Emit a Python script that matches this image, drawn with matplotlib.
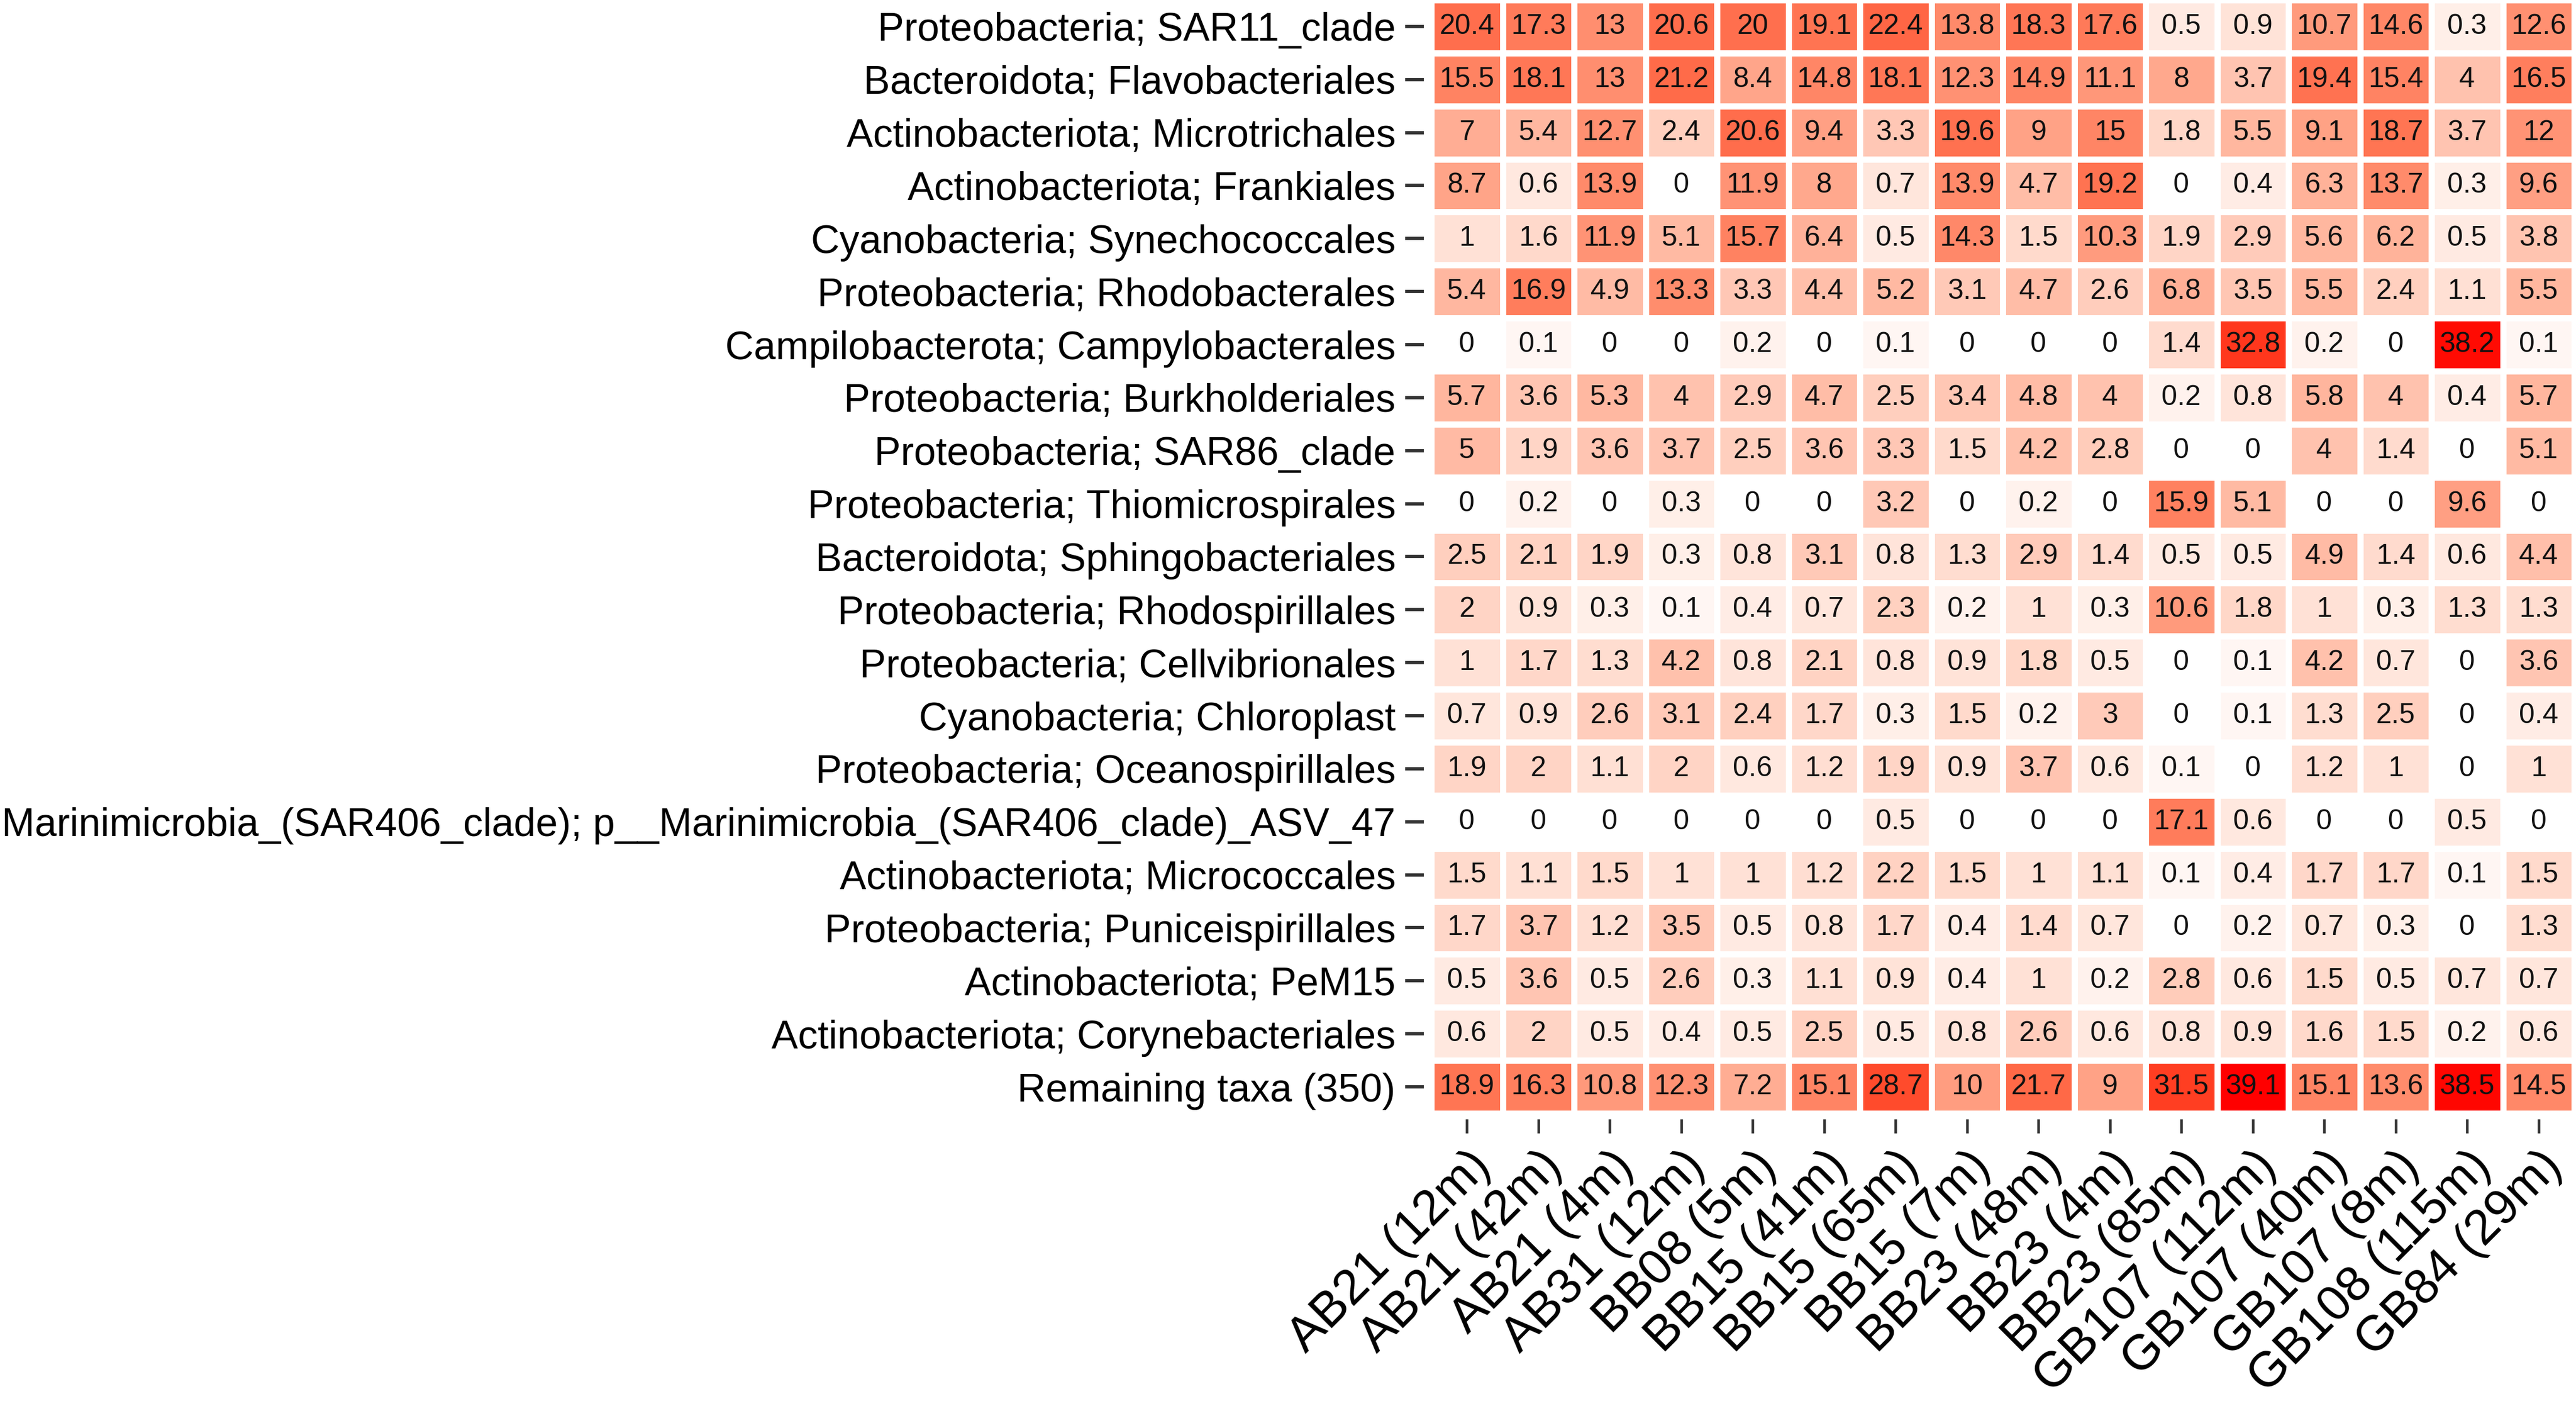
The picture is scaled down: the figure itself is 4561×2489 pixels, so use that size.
import numpy as np
import matplotlib
matplotlib.use("Agg")
import matplotlib.pyplot as plt
from matplotlib.colors import ListedColormap

plt.rcParams['font.family'] = ['Liberation Sans', 'DejaVu Sans']

samples = ["AB21 (12m)", "AB21 (42m)", "AB21 (4m)", "AB31 (12m)", "BB08 (5m)",
           "BB15 (41m)", "BB15 (65m)", "BB15 (7m)", "BB23 (48m)", "BB23 (4m)",
           "BB23 (85m)", "GB107 (112m)", "GB107 (40m)", "GB107 (8m)",
           "GB108 (115m)", "GB84 (29m)"]

taxa = ["Proteobacteria; SAR11_clade",
        "Bacteroidota; Flavobacteriales",
        "Actinobacteriota; Microtrichales",
        "Actinobacteriota; Frankiales",
        "Cyanobacteria; Synechococcales",
        "Proteobacteria; Rhodobacterales",
        "Campilobacterota; Campylobacterales",
        "Proteobacteria; Burkholderiales",
        "Proteobacteria; SAR86_clade",
        "Proteobacteria; Thiomicrospirales",
        "Bacteroidota; Sphingobacteriales",
        "Proteobacteria; Rhodospirillales",
        "Proteobacteria; Cellvibrionales",
        "Cyanobacteria; Chloroplast",
        "Proteobacteria; Oceanospirillales",
        "Marinimicrobia_(SAR406_clade); p__Marinimicrobia_(SAR406_clade)_ASV_47",
        "Actinobacteriota; Micrococcales",
        "Proteobacteria; Puniceispirillales",
        "Actinobacteriota; PeM15",
        "Actinobacteriota; Corynebacteriales",
        "Remaining taxa (350)"]

abund = np.array([
    [20.4, 17.3, 13, 20.6, 20, 19.1, 22.4, 13.8, 18.3, 17.6, 0.5, 0.9, 10.7, 14.6, 0.3, 12.6],
    [15.5, 18.1, 13, 21.2, 8.4, 14.8, 18.1, 12.3, 14.9, 11.1, 8, 3.7, 19.4, 15.4, 4, 16.5],
    [7, 5.4, 12.7, 2.4, 20.6, 9.4, 3.3, 19.6, 9, 15, 1.8, 5.5, 9.1, 18.7, 3.7, 12],
    [8.7, 0.6, 13.9, 0, 11.9, 8, 0.7, 13.9, 4.7, 19.2, 0, 0.4, 6.3, 13.7, 0.3, 9.6],
    [1, 1.6, 11.9, 5.1, 15.7, 6.4, 0.5, 14.3, 1.5, 10.3, 1.9, 2.9, 5.6, 6.2, 0.5, 3.8],
    [5.4, 16.9, 4.9, 13.3, 3.3, 4.4, 5.2, 3.1, 4.7, 2.6, 6.8, 3.5, 5.5, 2.4, 1.1, 5.5],
    [0, 0.1, 0, 0, 0.2, 0, 0.1, 0, 0, 0, 1.4, 32.8, 0.2, 0, 38.2, 0.1],
    [5.7, 3.6, 5.3, 4, 2.9, 4.7, 2.5, 3.4, 4.8, 4, 0.2, 0.8, 5.8, 4, 0.4, 5.7],
    [5, 1.9, 3.6, 3.7, 2.5, 3.6, 3.3, 1.5, 4.2, 2.8, 0, 0, 4, 1.4, 0, 5.1],
    [0, 0.2, 0, 0.3, 0, 0, 3.2, 0, 0.2, 0, 15.9, 5.1, 0, 0, 9.6, 0],
    [2.5, 2.1, 1.9, 0.3, 0.8, 3.1, 0.8, 1.3, 2.9, 1.4, 0.5, 0.5, 4.9, 1.4, 0.6, 4.4],
    [2, 0.9, 0.3, 0.1, 0.4, 0.7, 2.3, 0.2, 1, 0.3, 10.6, 1.8, 1, 0.3, 1.3, 1.3],
    [1, 1.7, 1.3, 4.2, 0.8, 2.1, 0.8, 0.9, 1.8, 0.5, 0, 0.1, 4.2, 0.7, 0, 3.6],
    [0.7, 0.9, 2.6, 3.1, 2.4, 1.7, 0.3, 1.5, 0.2, 3, 0, 0.1, 1.3, 2.5, 0, 0.4],
    [1.9, 2, 1.1, 2, 0.6, 1.2, 1.9, 0.9, 3.7, 0.6, 0.1, 0, 1.2, 1, 0, 1],
    [0, 0, 0, 0, 0, 0, 0.5, 0, 0, 0, 17.1, 0.6, 0, 0, 0.5, 0],
    [1.5, 1.1, 1.5, 1, 1, 1.2, 2.2, 1.5, 1, 1.1, 0.1, 0.4, 1.7, 1.7, 0.1, 1.5],
    [1.7, 3.7, 1.2, 3.5, 0.5, 0.8, 1.7, 0.4, 1.4, 0.7, 0, 0.2, 0.7, 0.3, 0, 1.3],
    [0.5, 3.6, 0.5, 2.6, 0.3, 1.1, 0.9, 0.4, 1, 0.2, 2.8, 0.6, 1.5, 0.5, 0.7, 0.7],
    [0.6, 2, 0.5, 0.4, 0.5, 2.5, 0.5, 0.8, 2.6, 0.6, 0.8, 0.9, 1.6, 1.5, 0.2, 0.6],
    [18.9, 16.3, 10.8, 12.3, 7.2, 15.1, 28.7, 10, 21.7, 9, 31.5, 39.1, 15.1, 13.6, 38.5, 14.5],
])


# white -> red gradient interpolated in CIELAB (like ggplot's scale_fill_gradient)
def lab_to_rgb(lab):
    L, a, b = lab[:, 0], lab[:, 1], lab[:, 2]
    fy = (L + 16) / 116
    fx = fy + a / 500
    fz = fy - b / 200
    d = 6 / 29

    def finv(t):
        return np.where(t > d, t ** 3, 3 * d ** 2 * (t - 4 / 29))
    xyz = np.stack([0.95047 * finv(fx), finv(fy), 1.08883 * finv(fz)], axis=1)
    m = np.array([[3.2406, -1.5372, -0.4986],
                  [-0.9689, 1.8758, 0.0415],
                  [0.0557, -0.2040, 1.0570]])
    lin = xyz @ m.T
    lin = np.clip(lin, 0, 1)
    rgb = np.where(lin > 0.0031308, 1.055 * lin ** (1 / 2.4) - 0.055, 12.92 * lin)
    return np.clip(rgb, 0, 1)


t = np.linspace(0, 1, 256)[:, None]
lab_white = np.array([100.0, 0.0, 0.0])
lab_red = np.array([53.2408, 80.0925, 67.2032])
cmap = ListedColormap(lab_to_rgb(lab_white * (1 - t) + lab_red * t))

fig = plt.figure(figsize=(4561 / 300, 2489 / 300), dpi=300)
ax = fig.add_axes([2521 / 4561, 1 - 1981 / 2489, 2037 / 4561, 1981 / 2489])

nr, nc = abund.shape
# square-root colour scale
ax.pcolormesh(np.arange(nc + 1) - 0.5, np.arange(nr + 1) - 0.5, np.sqrt(abund),
              cmap=cmap, vmin=0, vmax=np.sqrt(abund.max()),
              edgecolors='white', linewidth=2.2)

for i in range(nr):
    for j in range(nc):
        ax.text(j, i, f"{abund[i, j]:g}", ha='center', va='center',
                fontsize=12, color='#111111')

ax.set_xlim(-0.603, nc - 0.5)
ax.set_ylim(nr - 0.5 + 0.107, -0.5)

ax.set_xticks(np.arange(nc))
ax.set_xticklabels(samples, rotation=45, ha='right', va='top',
                   rotation_mode='anchor', fontsize=21)
ax.set_yticks(np.arange(nr))
ax.set_yticklabels(taxa, fontsize=16.8)

ax.tick_params(axis='x', length=6, width=1.1, color='#333333', pad=4)
ax.tick_params(axis='y', length=8, width=1.4, color='#333333', pad=4)
for s in ax.spines.values():
    s.set_visible(False)

fig.savefig("out.png", dpi=300)
